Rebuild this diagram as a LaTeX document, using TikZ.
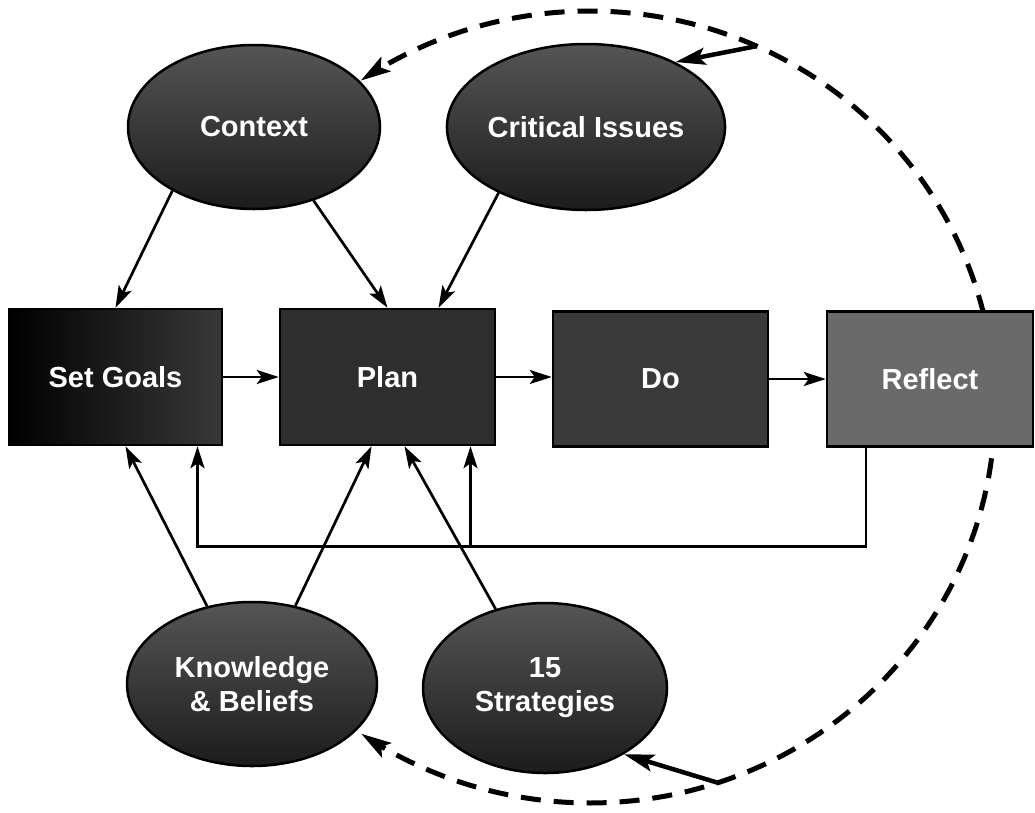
\documentclass[tikz,border=0pt]{standalone}
\usepackage{fontspec}
\setmainfont{Liberation Sans}
\usetikzlibrary{arrows.meta,shapes.geometric,calc}
\definecolor{ovaltop}{HTML}{555555}
\definecolor{ovalbot}{HTML}{1C1C1C}
\definecolor{planfill}{HTML}{2E2E2E}
\definecolor{dofill}{HTML}{3A3A3A}
\definecolor{reflfill}{HTML}{6A6A6A}
\begin{document}
\begin{tikzpicture}[x=1pt,y=-1pt,
  lbl/.style={text=white, font=\fontsize{29}{34}\selectfont\bfseries},
  box/.style={lbl, rectangle, draw=black, line width=2.5pt, inner sep=0pt},
  oval/.style={lbl, ellipse, draw=black, line width=2.5pt, inner sep=0pt, align=center, top color=ovaltop, bottom color=ovalbot},
  conn/.style={line width=2.7pt, -{Stealth[length=22pt,width=14pt,inset=5pt]}},
  loopline/.style={line width=5pt, dash pattern=on 20pt off 13pt, {Stealth[length=30pt,width=17pt,inset=6pt]}-{Stealth[length=30pt,width=17pt,inset=6pt]}},
  bigconn/.style={line width=4.5pt, -{Stealth[length=30pt,width=17pt,inset=6pt]}}
]
\useasboundingbox (0,0) rectangle (1035,812);

% dashed loop (behind the boxes)
\draw[loopline] plot[domain=235.5:484.4, samples=160] ({590+405*cos(\x)},{407+396*sin(\x)});
\coordinate (cA) at ({590+405*cos(294.3)},{407+396*sin(294.3)});
\coordinate (cB) at ({590+405*cos(431.6)},{407+396*sin(431.6)});

% boxes
\node[box, minimum width=213pt, minimum height=136pt, left color=black, right color=black!78] (sg) at (115.5,377) {Set Goals};
\node[box, minimum width=215pt, minimum height=136pt, fill=planfill] (pl) at (387.5,377) {Plan};
\node[box, minimum width=215pt, minimum height=135pt, fill=dofill] (dob) at (660.5,379) {Do};
\node[box, minimum width=206pt, minimum height=135pt, fill=reflfill] (rf) at (930,379) {Reflect};

% ovals
\node[oval, minimum width=252pt, minimum height=164pt] (ctx) at (254,127) {Context};
\node[oval, minimum width=252pt, minimum height=166pt] (ci) at (586,127) {Critical Issues};
\node[oval, minimum width=250pt, minimum height=164pt] (kb) at (252,684) {Knowledge\\\& Beliefs};
\node[oval, minimum width=244pt, minimum height=170pt] (st) at (545,688) {15\\Strategies};

% arrows from the loop
\draw[bigconn] (cA) -- (ci.36);
\draw[bigconn] (cB) -- (st.-40);

% top arrows
\draw[conn] (ctx.218) -- (sg.north);
\draw[conn] (ctx.309) -- (pl.north);
\draw[conn] (ci.217) -- ($(pl.north)+(51,0)$);

% main flow
\draw[conn] (sg.east) -- (pl.west);
\draw[conn] (pl.east) -- (pl.east -| dob.west);
\draw[conn] (dob.east) -- (dob.east -| rf.west);

% bottom arrows
\draw[conn] (kb.120) -- ($(sg.south)+(10,0)$);
\draw[conn] (kb.61) -- ($(pl.south)+(-16,0)$);
\draw[conn] (st.122) -- ($(pl.south)+(17,0)$);

% feedback
\coordinate (fbR) at ($(rf.south)+(-64,0)$);
\coordinate (fbL) at ($(sg.south)+(82,0)$);
\coordinate (fbM) at ($(pl.south)+(83,0)$);
\draw[conn] (fbR) |- ($(fbL)+(0,100)$) -- (fbL);
\draw[conn] ($(fbM)+(0,100)$) -- (fbM);
\end{tikzpicture}
\end{document}
